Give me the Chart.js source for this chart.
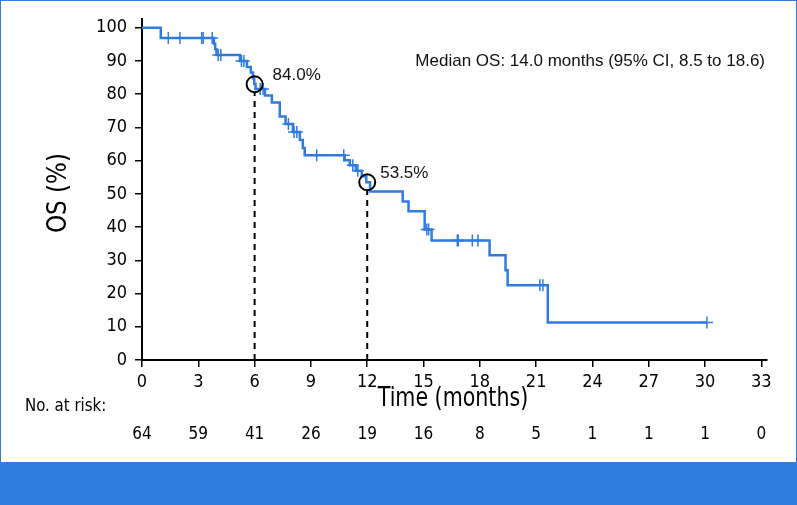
<!DOCTYPE html>
<html>
<head>
<meta charset="utf-8">
<script src="https://cdn.jsdelivr.net/npm/chart.js@4"></script>
<style>
  html, body { margin: 0; padding: 0; background: #fff; }
  #wrap { position: relative; width: 797px; height: 505px; box-sizing: border-box; box-shadow: inset 0 0 0 1px #2e7fe0; }
  #chart { display: block; }
  #band { position: absolute; left: 0; bottom: 0; width: 797px; height: 43px; background: #2e7fe0; }
</style>
</head>
<body>
<div id="wrap">
  <canvas id="chart" width="797" height="462"></canvas>
  <div id="band"></div>
</div>
<script>
// Kaplan-Meier curve: event times (months) and survival after each step (%)
const eventTimes = [0, 1.0, 3.83, 3.9, 3.97, 5.22, 5.59, 5.8, 5.91, 5.98, 6.05, 6.55, 6.92, 7.34, 7.65, 8.04, 8.41, 8.57, 8.67,
  10.8, 11.07, 11.39, 11.71, 11.95, 12.15, 13.89, 14.2, 15.06, 15.43, 18.52, 19.37, 19.48, 21.62, 30.1];
const survival = [100, 96.9, 95.2, 93.5, 91.8, 90.0, 88.2, 86.5, 84.8, 83.1, 81.6, 79.6, 77.5, 73.3, 71.0, 68.6, 66.2, 63.8, 61.6,
  60.1, 58.6, 57.0, 55.3, 53.5, 50.7, 47.7, 44.8, 39.3, 36.0, 31.5, 27.0, 22.5, 11.25, 11.25];

// censored patients (months)
const censorTimes = [1.4, 2.02, 3.18, 3.26, 3.74, 4.06, 4.2, 5.3, 5.43, 6.3, 6.45, 7.8, 8.1, 8.25, 9.31, 10.75,
  11.23, 11.5, 15.17, 15.27, 16.8, 16.85, 17.6, 17.9, 21.2, 21.36, 30.1];

// landmark estimates
const landmarkTimes = [6, 12];
const landmarkValues = [83.0, 53.5];
const landmarkLabels = ["84.0%", "53.5%"];

// number at risk
const riskTimes = [0, 3, 6, 9, 12, 15, 18, 21, 24, 27, 30, 33];
const riskCounts = [64, 59, 41, 26, 19, 16, 8, 5, 1, 1, 1, 0];

const yTicks = [0, 10, 20, 30, 40, 50, 60, 70, 80, 90, 100];
const medianText = "Median OS: 14.0 months (95% CI, 8.5 to 18.6)";

const blue = "#2f7be0";
const narrow = "'Liberation Sans Narrow', 'DejaVu Sans Condensed', 'Roboto Condensed', sans-serif";
const regular = "'Liberation Sans', Arial, sans-serif";

// survival value at time t from the step function
function survivalAt(t) {
  let s = survival[0];
  for (let i = 0; i < eventTimes.length; i++) {
    if (eventTimes[i] <= t) s = survival[i];
  }
  return s;
}

const kmPoints = eventTimes.map((t, i) => ({ x: t, y: survival[i] }));
const censorPoints = censorTimes.map((t) => ({ x: t, y: survivalAt(t) }));
const circlePoints = landmarkTimes.map((t, i) => ({ x: t, y: landmarkValues[i] }));

const circleGap = 2.4; // keep dashes out of the circle
const dashSets = landmarkTimes.map((t, i) => ({
  type: "line",
  data: [{ x: t, y: 0 }, { x: t, y: landmarkValues[i] - circleGap }],
  borderColor: "#000",
  borderWidth: 2,
  borderDash: [6, 5],
  pointRadius: 0,
  order: 4,
}));

// squeezed text, to get closer to the condensed face of the original
function narrowText(ctx, text, x, y, squeeze) {
  ctx.save();
  ctx.translate(x, y);
  ctx.scale(squeeze, 1);
  ctx.fillText(text, 0, 0);
  ctx.restore();
}

const textPlugin = {
  id: "texts",
  afterDraw(chart) {
    const ctx = chart.ctx;
    const x = chart.scales.x;
    const y = chart.scales.y;
    ctx.save();
    ctx.fillStyle = "#000";

    // y title
    ctx.save();
    ctx.translate(59, 193);
    ctx.rotate(-Math.PI / 2);
    ctx.font = "27px " + narrow;
    ctx.textAlign = "center";
    ctx.textBaseline = "middle";
    narrowText(ctx, "OS (%)", 0, 0, 0.95);
    ctx.restore();

    // x title
    ctx.font = "26px " + narrow;
    ctx.textAlign = "center";
    ctx.textBaseline = "middle";
    narrowText(ctx, "Time (months)", 453, 399, 0.88);

    // at risk table
    ctx.font = "17px " + narrow;
    ctx.textAlign = "left";
    narrowText(ctx, "No. at risk:", 25, 407, 0.98);
    ctx.textAlign = "center";
    riskTimes.forEach((t, i) => {
      ctx.fillText(String(riskCounts[i]), x.getPixelForValue(t), 435);
    });

    // median text
    ctx.font = "17px " + regular;
    ctx.fillStyle = "#111";
    ctx.textAlign = "right";
    ctx.fillText(medianText, 765, 61);

    // landmark labels
    ctx.textAlign = "left";
    const dx = [18, 13];
    landmarkTimes.forEach((t, i) => {
      const px = x.getPixelForValue(t) + dx[i];
      const py = y.getPixelForValue(landmarkValues[i]) - 9;
      ctx.fillText(landmarkLabels[i], px, py);
    });
    ctx.restore();
  },
};

new Chart(document.getElementById("chart"), {
  type: "line",
  data: {
    datasets: [
      {
        type: "scatter",
        data: circlePoints,
        pointStyle: "circle",
        pointRadius: 8,
        pointBorderWidth: 2,
        pointBorderColor: "#000",
        pointBackgroundColor: "rgba(0,0,0,0)",
        showLine: false,
        order: 1,
      },
      {
        type: "scatter",
        data: censorPoints,
        pointStyle: "cross",
        pointRadius: 6,
        pointBorderWidth: 1.5,
        pointBorderColor: blue,
        showLine: false,
        order: 2,
      },
      {
        data: kmPoints,
        stepped: true,
        borderColor: blue,
        borderWidth: 2.5,
        pointRadius: 0,
        order: 3,
      },
      ...dashSets,
    ],
  },
  options: {
    responsive: false,
    animation: false,
    devicePixelRatio: 1,
    layout: { padding: { top: 18, right: 30, left: 0, bottom: 0 } },
    plugins: { legend: { display: false }, tooltip: { enabled: false } },
    scales: {
      x: {
        type: "linear",
        min: 0,
        max: 33.3,
        afterBuildTicks: (scale) => {
          scale.ticks = riskTimes.map((v) => ({ value: v }));
        },
        afterFit: (scale) => {
          scale.height = 102;
        },
        grid: { drawOnChartArea: false, drawTicks: true, tickLength: 7, color: "#000", lineWidth: 1.5 },
        border: { color: "#000", width: 2 },
        ticks: { color: "#000", font: { family: narrow, size: 18 }, padding: 5, maxRotation: 0, autoSkip: false },
      },
      y: {
        min: 0,
        max: 102.7,
        afterBuildTicks: (scale) => {
          scale.ticks = yTicks.map((v) => ({ value: v }));
        },
        afterFit: (scale) => {
          scale.width = 142;
        },
        grid: { drawOnChartArea: false, drawTicks: true, tickLength: 7, color: "#000", lineWidth: 1.5 },
        border: { color: "#000", width: 2 },
        ticks: { color: "#000", font: { family: narrow, size: 18 }, padding: 8 },
      },
    },
  },
  plugins: [textPlugin],
});
</script>
</body>
</html>
